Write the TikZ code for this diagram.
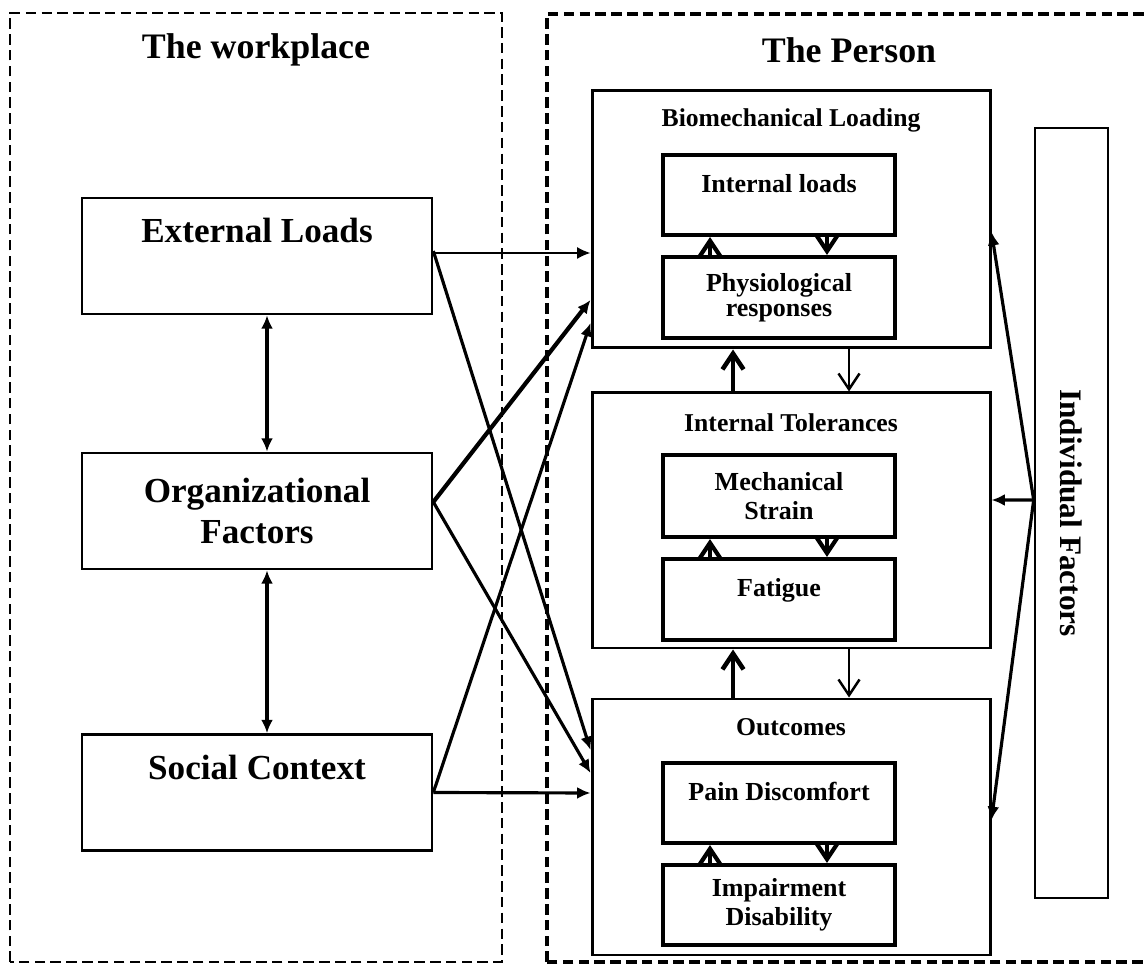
\documentclass[tikz,border=0pt]{standalone}
\usepackage{fontspec}
\setmainfont{Liberation Serif}
\usetikzlibrary{arrows.meta}

\begin{document}
\begin{tikzpicture}[
  lbox/.style={draw,line width=0.75pt,minimum width=3.5cm,minimum height=1.16cm,inner sep=0pt,align=center,font=\bfseries\fontsize{10}{11.8}\selectfont},
  pbox/.style={draw,line width=0.85pt,minimum width=3.98cm,inner sep=0pt},
  ibox/.style={draw,line width=1.15pt,minimum width=2.32cm,minimum height=0.8cm,inner sep=0pt,align=center,font=\bfseries\fontsize{7.4}{8.2}\selectfont},
  head/.style={font=\bfseries\fontsize{7.3}{8.5}\selectfont},
  title/.style={font=\bfseries\fontsize{10.2}{12}\selectfont},
  tip/.style={-{Latex[length=3.8pt,width=3.4pt]},line width=0.9pt},
  both/.style={{Latex[length=3.8pt,width=3.4pt]}-{Latex[length=3.8pt,width=3.4pt]},line width=0.9pt},
  barb/.style={-{Straight Barb[length=4.5pt,width=6pt]},line width=#1},
]
\useasboundingbox (0,0) rectangle (11.46,9.67);
\clip (0,0) rectangle (11.46,9.67);
\draw[line width=0.7pt,dash pattern=on 3pt off 1.5pt] (0.10,0.05) rectangle (5.02,9.54);
\draw[line width=1.1pt,dash pattern=on 3pt off 1.5pt] (5.47,0.05) rectangle (11.70,9.53);
\node[title] (wp) at (2.56,9.17) {The workplace};
\node[title] (ps) at (8.49,9.17) {The Person};

% workplace
\node[lbox] (ext) at (2.57,7.11) {External Loads\\[-1pt]\strut};
\node[lbox] (org) at (2.57,4.56) {Organizational\\Factors};
\node[lbox] (soc) at (2.57,1.745) {Social Context\\[-1pt]\strut};
\draw[both] ([xshift=1mm]ext.south) -- ([xshift=1mm]org.north);
\draw[both] ([xshift=1mm]org.south) -- ([xshift=1mm]soc.north);

% person
\node[pbox,minimum height=2.57cm] (bio) at (7.91,7.475) {};
\node[pbox,minimum height=2.55cm] (tol) at (7.91,4.465) {};
\node[pbox,minimum height=2.56cm] (out) at (7.91,1.40) {};
\node[head] (bioh) at ([yshift=-0.31cm]bio.north) {Biomechanical Loading};
\node[head] (tolh) at ([yshift=-0.31cm]tol.north) {Internal Tolerances};
\node[head] (outh) at ([yshift=-0.30cm]out.north) {Outcomes};

\node[ibox] (il) at (7.79,7.72) {Internal loads\\[-4pt]\strut};
\node[ibox,minimum height=0.81cm,font=\bfseries\fontsize{7.4}{7.2}\selectfont] (pr) at (7.79,6.695) {Physiological\\responses};
\node[ibox,minimum height=0.82cm] (ms) at (7.79,4.71) {Mechanical\\Strain};
\node[ibox,minimum height=0.81cm] (fa) at (7.79,3.675) {Fatigue\\[-4pt]\strut};
\node[ibox] (pd) at (7.79,1.64) {Pain Discomfort\\[-4pt]\strut};
\node[ibox] (id) at (7.79,0.62) {Impairment\\Disability};

\foreach \a/\b in {il/pr,ms/fa,pd/id}{
  \draw[barb=1.2pt] ([xshift=-6.9mm]\b.north) -- ([xshift=-6.9mm]\a.south);
  \draw[barb=1.2pt] ([xshift=4.8mm]\a.south) -- ([xshift=4.8mm]\b.north);
}
\foreach \a/\b in {bio/tol,tol/out}{
  \draw[barb=1.3pt] ([xshift=-5.8mm]\b.north) -- ([xshift=-5.8mm]\a.south);
  \draw[barb=0.7pt] ([xshift=5.8mm]\a.south) -- ([xshift=5.8mm]\b.north);
}

\node[draw,line width=0.75pt,minimum width=0.73cm,minimum height=7.70cm,inner sep=0pt] (ind) at (10.715,4.54) {};
\node[rotate=-90,font=\bfseries\fontsize{8.9}{10}\selectfont] (indt) at (ind.center) {Individual Factors};
\draw[tip] ([yshift=1.3mm]ind.west) -- ([yshift=-1.25mm]bio.east);
\draw[tip] ([yshift=1.3mm]ind.west) -- ([yshift=2.05mm]tol.east);
\draw[tip] ([yshift=1.3mm]ind.west) -- ([yshift=0.7mm]out.east);

% workplace to person
\draw[tip,line width=0.5pt] ([yshift=0.3mm]ext.east) -- ([yshift=-3.35mm]bio.west);
\draw[tip] ([yshift=0.5mm]ext.east) -- ([yshift=7.7mm]out.west);
\draw[tip,line width=1.2pt] ([yshift=0.9mm]org.east) -- ([yshift=-8.05mm]bio.west);
\draw[tip] ([yshift=0.9mm]org.east) -- ([yshift=5.4mm]out.west);
\draw[tip] (soc.east) -- ([yshift=-10.35mm]bio.west);
\draw[tip] (soc.east) -- ([yshift=3.4mm]out.west);
\end{tikzpicture}
\end{document}
